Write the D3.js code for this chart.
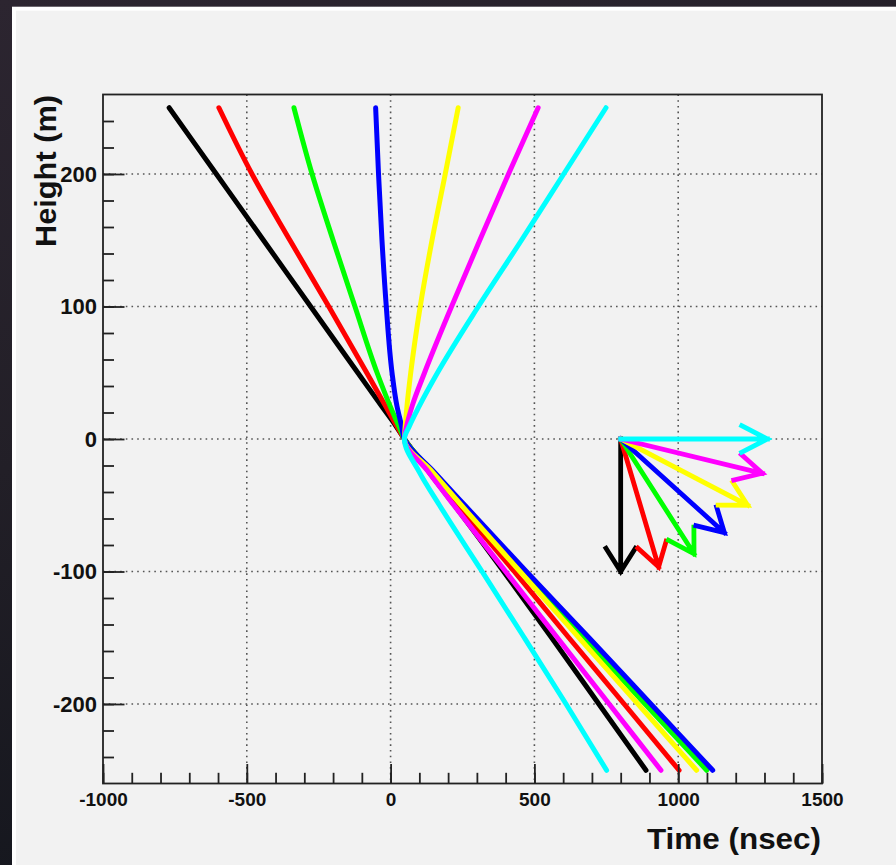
<!DOCTYPE html>
<html>
<head>
<meta charset="utf-8">
<script src="https://cdn.jsdelivr.net/npm/d3@7"></script>
<style>
  html, body { margin: 0; padding: 0; background: #1c1a20; }
  svg { display: block; }
</style>
</head>
<body>
<svg id="chart" width="896" height="865"></svg>
<script>
// ---------- data ----------
const heights   = [250, 200, 150, 100, 50, 25, 10, 0, -25, -50, -100, -150, -200, -250];
const blackT    = [-770, -606, -442, -278, -114, -32, 18, 48, 134, 222, 393, 560, 724, 888];
const redT      = [-597, -482, -350, -215, -83, -18, 21, 48, 140, 235, 430, 620, 812, 1003];
const greenT    = [-336, -273, -200, -124, -47, -2, 28, 48, 148, 250, 460, 672, 885, 1099];
const blueT     = [-52, -42, -30, -15, 5, 22, 38, 48, 152, 258, 472, 690, 905, 1120];
const yellowT   = [235, 190, 144, 103, 70, 57, 51, 48, 146, 246, 450, 655, 860, 1064];
const magentaT  = [513, 410, 310, 212, 118, 75, 56, 48, 132, 220, 400, 580, 760, 940];
const cyanT     = [749, 602, 455, 305, 163, 100, 66, 48, 100, 170, 318, 465, 610, 751];

const seriesNames  = ["black", "red", "green", "blue", "yellow", "magenta", "cyan"];
const seriesValues = [blackT, redT, greenT, blueT, yellowT, magentaT, cyanT];
const seriesColors = ["#000000", "#ff0000", "#00ff00", "#0000ff", "#ffff00", "#ff00ff", "#00ffff"];

// direction arrows (angle below horizontal, degrees)
const arrowAngles = [90, 75, 60, 45, 30, 15, 0];
const arrowOrigin = [800, 0];      // [time, height]
const arrowScale  = [510, 100];    // [time units, height units]

const xTicksMajor = [-1000, -500, 0, 500, 1000, 1500];
const xTicksMinor = d3.range(-1000, 1501, 100);
const yTicksMajor = [-200, -100, 0, 100, 200];
const yTicksMinor = d3.range(-240, 241, 20);
const xTitle = "Time (nsec)";
const yTitle = "Height (m)";

// ---------- layout ----------
const svg = d3.select("#chart");
const W = 896, H = 865;
const plot = { left: 103, right: 822, top: 94.5, bottom: 783.5 };

const x = d3.scaleLinear().domain([-1000, 1500]).range([plot.left, plot.right]);
const y = d3.scaleLinear().domain([-260, 260]).range([plot.bottom, plot.top]);

// background
const defs = svg.append("defs");
const grad = defs.append("linearGradient").attr("id", "bg").attr("x1", 0).attr("y1", 0).attr("x2", 0.3).attr("y2", 1);
grad.append("stop").attr("offset", "0%").attr("stop-color", "#2c2530");
grad.append("stop").attr("offset", "50%").attr("stop-color", "#221f27");
grad.append("stop").attr("offset", "100%").attr("stop-color", "#14161d");
svg.append("rect").attr("width", W).attr("height", H).attr("fill", "url(#bg)");
svg.append("rect").attr("x", 12).attr("y", 6.7).attr("width", W).attr("height", H).attr("fill", "#ffffff");
svg.append("rect").attr("x", 16).attr("y", 10.7).attr("width", W).attr("height", H).attr("fill", "#f2f2f2");

// grid (dotted)
const grid = svg.append("g").attr("stroke", "#555").attr("stroke-width", 1.6).attr("stroke-dasharray", "1.6 4.1");
grid.selectAll("line.gx").data(xTicksMajor.filter(v => v > -1000 && v < 1500)).join("line")
  .attr("x1", d => x(d)).attr("x2", d => x(d)).attr("y1", plot.top).attr("y2", plot.bottom);
grid.selectAll("line.gy").data(yTicksMajor).join("line").attr("class", "gy")
  .attr("y1", d => y(d)).attr("y2", d => y(d)).attr("x1", plot.left).attr("x2", plot.right);

// curves
const line = d3.line().x(d => x(d[0])).y(d => y(d[1])).curve(d3.curveMonotoneY);
const curves = svg.append("g").attr("fill", "none").attr("stroke-width", 5)
  .attr("stroke-linejoin", "round").attr("stroke-linecap", "round");
seriesValues.forEach((vals, i) => {
  curves.append("path")
    .datum(vals.map((t, k) => [t, heights[k]]))
    .attr("stroke", seriesColors[i])
    .attr("d", line);
});

// arrows
const arrows = svg.append("g").attr("fill", "none").attr("stroke-width", 4.8)
  .attr("stroke-linejoin", "miter").attr("stroke-linecap", "square");
arrowAngles.forEach((a, i) => {
  const r = a * Math.PI / 180;
  const u = [Math.cos(r), -Math.sin(r)];           // normalized direction
  const v = [Math.sin(r), Math.cos(r)];            // perpendicular
  const toData = p => [arrowOrigin[0] + p[0] * arrowScale[0], arrowOrigin[1] + p[1] * arrowScale[1]];
  const tip = toData(u);
  const back = 0.175, half = 0.1;
  const h1 = toData([u[0] * (1 - back) + v[0] * half, u[1] * (1 - back) + v[1] * half]);
  const h2 = toData([u[0] * (1 - back) - v[0] * half, u[1] * (1 - back) - v[1] * half]);
  const o = arrowOrigin;
  const path = d3.path();
  path.moveTo(x(o[0]), y(o[1])); path.lineTo(x(tip[0]), y(tip[1]));
  path.moveTo(x(h1[0]), y(h1[1])); path.lineTo(x(tip[0]), y(tip[1])); path.lineTo(x(h2[0]), y(h2[1]));
  arrows.append("path").attr("d", path.toString()).attr("stroke", seriesColors[i]);
});

// axes
const font = "'Liberation Sans', Arial, Helvetica, sans-serif";
const xAxisMinor = svg.append("g").attr("transform", `translate(0,${plot.bottom})`)
  .call(d3.axisBottom(x).tickValues(xTicksMinor).tickSize(-10.7).tickFormat(""));
const xAxis = svg.append("g").attr("transform", `translate(0,${plot.bottom})`)
  .call(d3.axisBottom(x).tickValues(xTicksMajor).tickSize(-19.5).tickPadding(9).tickFormat(d3.format("d")));
const yAxisMinor = svg.append("g").attr("transform", `translate(${plot.left},0)`)
  .call(d3.axisLeft(y).tickValues(yTicksMinor).tickSize(-11).tickFormat(""));
const yAxis = svg.append("g").attr("transform", `translate(${plot.left},0)`)
  .call(d3.axisLeft(y).tickValues(yTicksMajor).tickSize(-21.5).tickPadding(6).tickFormat(d3.format("d")));

[xAxisMinor, xAxis, yAxisMinor, yAxis].forEach(g => {
  g.select(".domain").remove();
  g.selectAll(".tick line").attr("stroke", "#222").attr("stroke-width", 1.8);
});
xAxis.selectAll("text").attr("font-family", font).attr("font-weight", "bold")
  .attr("font-size", 19).attr("fill", "#111").text(d => d3.format("d")(d).replace("\u2212", "-"));
yAxis.selectAll("text").attr("font-family", font).attr("font-weight", "bold")
  .attr("font-size", 22).attr("fill", "#111").text(d => d3.format("d")(d).replace("\u2212", "-"));

// frame
svg.append("rect").attr("x", plot.left).attr("y", plot.top)
  .attr("width", plot.right - plot.left).attr("height", plot.bottom - plot.top)
  .attr("fill", "none").attr("stroke", "#222").attr("stroke-width", 1.8);

// titles
svg.append("text").attr("x", 821).attr("y", 849)
  .attr("text-anchor", "end").attr("font-family", font).attr("font-weight", "bold")
  .attr("font-size", 30).attr("fill", "#111")
  .attr("textLength", 174).attr("lengthAdjust", "spacingAndGlyphs").text(xTitle);
svg.append("text").attr("transform", "translate(56,95) rotate(-90)")
  .attr("text-anchor", "end").attr("font-family", font).attr("font-weight", "bold")
  .attr("font-size", 30).attr("fill", "#111")
  .attr("textLength", 152).attr("lengthAdjust", "spacingAndGlyphs").text(yTitle);
</script>
</body>
</html>
